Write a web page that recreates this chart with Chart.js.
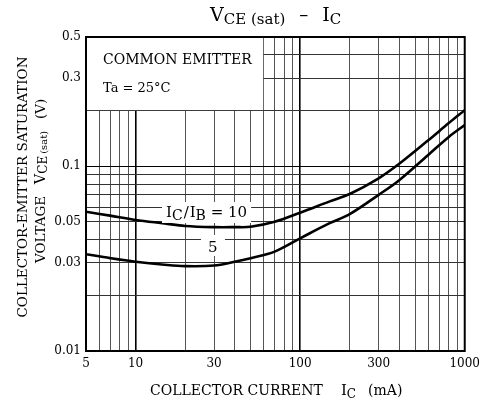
<!DOCTYPE html>
<html>
<head>
<meta charset="utf-8">
<script src="https://cdn.jsdelivr.net/npm/chart.js@4"></script>
<style>
  html, body { margin: 0; padding: 0; background: #fff; }
  #wrap { width: 486px; height: 405px; }
</style>
</head>
<body>
<div id="wrap"><canvas id="chart" width="486" height="405"></canvas></div>
<script>
// collector current (mA)
const icValues = [5, 7, 10, 15, 20, 30, 40, 50, 70, 100, 150, 200, 300, 400, 600, 800, 1000];
// VCE(sat) in volts, IC/IB = 10 and IC/IB = 5
const vce10 = [0.0567, 0.054, 0.0512, 0.049, 0.0475, 0.0468, 0.0468, 0.047, 0.050, 0.056, 0.0643, 0.0707, 0.086, 0.103, 0.138, 0.171, 0.201];
const vce5  = [0.0334, 0.0318, 0.0304, 0.0293, 0.0288, 0.029, 0.0304, 0.0318, 0.0345, 0.0407, 0.049, 0.055, 0.070, 0.084, 0.115, 0.144, 0.167];

const xGrid = [5, 6, 7, 8, 9, 10, 20, 30, 40, 50, 60, 70, 80, 90, 100, 200, 300, 400, 500, 600, 700, 800, 900, 1000];
const yGrid = [0.01, 0.02, 0.03, 0.04, 0.05, 0.06, 0.07, 0.08, 0.09, 0.1, 0.2, 0.3, 0.4, 0.5];
const xLabels = [5, 10, 30, 100, 300, 1000];
const yLabels = [0.01, 0.03, 0.05, 0.1, 0.3, 0.5];

const SERIF = '"DejaVu Serif", "Liberation Serif", serif';

function toPoints(xs, ys) {
    return xs.map((x, i) => ({ x: x, y: ys[i] }));
}

// draw text made of pieces, some of them subscripts
function drawRich(ctx, parts, x, y) {
    let cx = x;
    parts.forEach(p => {
        ctx.font = p.size + 'px ' + SERIF;
        ctx.fillText(p.t, cx, y + (p.dy || 0));
        cx += ctx.measureText(p.t).width + (p.gap || 0);
    });
    return cx - x;
}

function richWidth(ctx, parts) {
    let w = 0;
    parts.forEach(p => {
        ctx.font = p.size + 'px ' + SERIF;
        w += ctx.measureText(p.t).width + (p.gap || 0);
    });
    return w;
}

const decorations = {
    id: 'decorations',
    beforeDatasetsDraw(chart) {
        const ctx = chart.ctx;
        const xs = chart.scales.x, ys = chart.scales.y;
        const area = chart.chartArea;
        ctx.save();
        ctx.fillStyle = '#fff';
        // condition box in the upper left corner
        ctx.fillRect(area.left + 1, area.top + 1, xs.getPixelForValue(60) - area.left - 1.5, ys.getPixelForValue(0.2) - area.top - 1.5);
        ctx.restore();
    },
    afterDatasetsDraw(chart) {
        const ctx = chart.ctx;
        const area = chart.chartArea;
        ctx.save();
        ctx.fillStyle = '#000';
        ctx.textBaseline = 'alphabetic';

        ctx.font = '14px ' + SERIF;
        ctx.fillText('COMMON EMITTER', 103, 64);
        ctx.font = '13px ' + SERIF;
        ctx.fillText('Ta = 25°C', 103, 92);

        // curve labels
        const lab10 = [
            { t: 'I', size: 15 }, { t: 'C', size: 14, dy: 3, gap: 1 }, { t: '/', size: 15, gap: 1 },
            { t: 'I', size: 15 }, { t: 'B', size: 14, dy: 3 }, { t: ' = 10', size: 15 }
        ];
        const w10 = richWidth(ctx, lab10);
        ctx.fillStyle = '#fff';
        ctx.fillRect(162, 202, w10 + 8, 21);
        ctx.fillRect(201, 235, 24, 21);
        ctx.fillStyle = '#000';
        drawRich(ctx, lab10, 166, 217);
        ctx.font = '15px ' + SERIF;
        ctx.fillText('5', 208, 252);

        // frame
        ctx.strokeStyle = '#000';
        ctx.lineWidth = 2;
        ctx.strokeRect(area.left, area.top, area.right - area.left, area.bottom - area.top);

        // title
        drawRich(ctx, [
            { t: 'V', size: 19 }, { t: 'CE (sat)', size: 15, dy: 3, gap: 14 },
            { t: '–', size: 18, gap: 14 }, { t: 'I', size: 19 }, { t: 'C', size: 15, dy: 3 }
        ], 210, 21);

        // x axis title
        drawRich(ctx, [
            { t: 'COLLECTOR CURRENT', size: 14, gap: 18 },
            { t: 'I', size: 15 }, { t: 'C', size: 12, dy: 3, gap: 12 },
            { t: '(mA)', size: 14 }
        ], 150, 395);

        // y axis title, two rotated lines
        ctx.save();
        ctx.translate(27, 187);
        ctx.rotate(-Math.PI / 2);
        ctx.font = '13.5px ' + SERIF;
        ctx.textAlign = 'center';
        ctx.fillText('COLLECTOR-EMITTER SATURATION', 0, 0);
        ctx.restore();

        ctx.save();
        ctx.translate(45, 263);
        ctx.rotate(-Math.PI / 2);
        ctx.textAlign = 'left';
        drawRich(ctx, [
            { t: 'VOLTAGE', size: 13.5, gap: 12 },
            { t: 'V', size: 14 }, { t: 'CE', size: 12, dy: 2, gap: 2 }, { t: '(sat)', size: 10, dy: 2, gap: 12 },
            { t: '(V)', size: 13.5 }
        ], 0, 0);
        ctx.restore();

        ctx.restore();
    }
};

function isDecade(decades, c) {
    const v = c.tick ? c.tick.value : 0;
    return decades.some(d => Math.abs(d - v) < 1e-9);
}

const ctx = document.getElementById('chart').getContext('2d');

new Chart(ctx, {
    type: 'line',
    data: {
        datasets: [
            {
                label: 'IC/IB = 10',
                data: toPoints(icValues, vce10),
                borderColor: '#000',
                borderWidth: 2.6,
                pointRadius: 0,
                tension: 0.35,
                fill: false
            },
            {
                label: 'IC/IB = 5',
                data: toPoints(icValues, vce5),
                borderColor: '#000',
                borderWidth: 2.6,
                pointRadius: 0,
                tension: 0.35,
                fill: false
            }
        ]
    },
    options: {
        responsive: false,
        animation: false,
        layout: { padding: { top: 37, right: 20, left: 0, bottom: 0 } },
        plugins: {
            legend: { display: false },
            tooltip: { enabled: false }
        },
        scales: {
            x: {
                type: 'logarithmic',
                min: 5,
                max: 1000,
                afterBuildTicks: (scale) => { scale.ticks = xGrid.map(v => ({ value: v })); },
                afterFit: (scale) => { scale.height = 54; },
                grid: {
                    color: (c) => isDecade([10, 100], c) ? '#000' : '#555',
                    lineWidth: (c) => isDecade([10, 100], c) ? 1.6 : 1,
                    drawTicks: false
                },
                border: { display: false },
                ticks: {
                    autoSkip: false,
                    maxRotation: 0,
                    padding: 6,
                    color: '#000',
                    font: { family: SERIF, size: 12 },
                    callback: (v) => xLabels.includes(v) ? String(v) : ''
                }
            },
            y: {
                type: 'logarithmic',
                min: 0.01,
                max: 0.5,
                afterBuildTicks: (scale) => { scale.ticks = yGrid.map(v => ({ value: v })); },
                afterFit: (scale) => { scale.width = 86; },
                grid: {
                    color: (c) => isDecade([0.1], c) ? '#000' : '#333',
                    lineWidth: 1,
                    drawTicks: false
                },
                border: { display: false },
                ticks: {
                    autoSkip: false,
                    padding: 5,
                    color: '#000',
                    font: { family: SERIF, size: 12 },
                    callback: (v) => yLabels.some(l => Math.abs(l - v) < 1e-9) ? String(v) : ''
                }
            }
        }
    },
    plugins: [decorations]
});
</script>
</body>
</html>
